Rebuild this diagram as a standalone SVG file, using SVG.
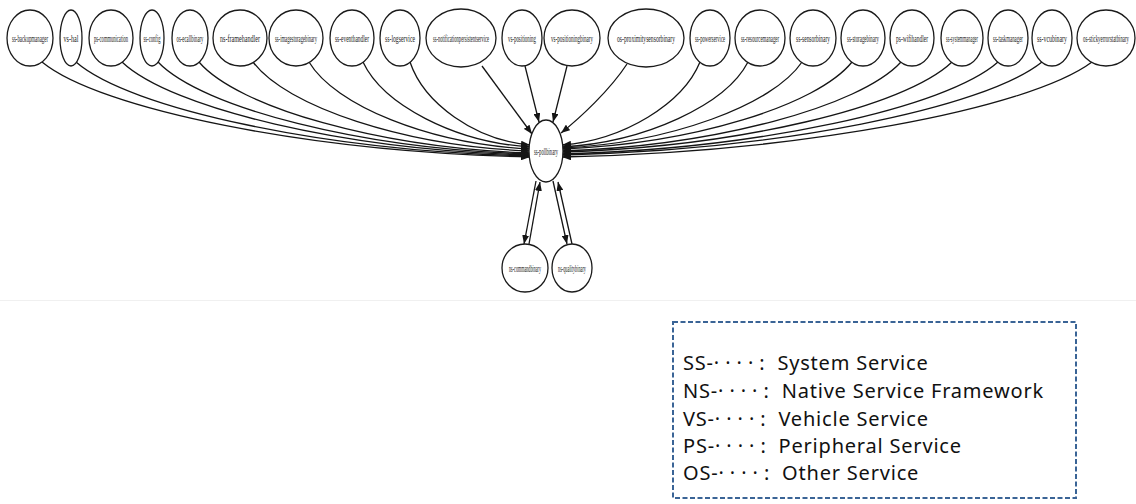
<svg xmlns="http://www.w3.org/2000/svg" width="1136" height="504" viewBox="0 0 1136 504">
  <style>
    .node ellipse { fill: #ffffff; stroke: #1a1a1a; stroke-width: 1.3; }
    .node text { font-family: "Liberation Serif", serif; font-size: 11px; fill: #1a1a1a; text-anchor: middle; }
    .edge { fill: none; stroke: #151515; stroke-width: 1.3; marker-end: url(#arrow); }
    .legend-box { fill: none; stroke: #3a6496; stroke-width: 2; stroke-dasharray: 5 2.5; }
    .legend text { font-family: "Noto Sans", "Noto Sans CJK KR", sans-serif; font-size: 20px; fill: #111111; white-space: pre; letter-spacing: 0.8px; }
    .legend .dots { letter-spacing: 6px; }
  </style>
  <defs>
    <marker id="arrow" markerUnits="userSpaceOnUse" markerWidth="9" markerHeight="7" refX="9" refY="3.5" orient="auto">
      <path d="M0,0 L9,3.5 L0,7 z" fill="#151515"/>
    </marker>
  </defs>

  <rect x="0" y="0" width="1136" height="504" fill="#ffffff"/>
  <line x1="0" y1="300.5" x2="1136" y2="300.5" stroke="#f0f0f0" stroke-width="1"/>

  <!-- dependency edges -->
  <g id="edges">
    <path class="edge" d="M42,62 C100,109.5 309,152 530,157"/>
    <path class="edge" d="M76,62 C130,109 325,151 530,156"/>
    <path class="edge" d="M122,62 C171,108.5 345,150 530,155"/>
    <path class="edge" d="M158,62 C202,108 362,149 530,154"/>
    <path class="edge" d="M199,62 C238,107.5 380,148 530,153"/>
    <path class="edge" d="M253,62 C286,106.5 404,146 530,151"/>
    <path class="edge" d="M309,62 C335,105.5 429,144 530,149"/>
    <path class="edge" d="M363,62 C383,104.5 454,142 530,147"/>
    <path class="edge" d="M410,62 C424,103.5 475,140 530,145"/>
    <path class="edge" d="M482,66 L532,134"/>
    <path class="edge" d="M525,66 L539,122"/>
    <path class="edge" d="M567,66 L553,122"/>
    <path class="edge" d="M627,64 C610,90 580,118 561,133"/>
    <path class="edge" d="M700,62 C683,103.5 624,140 562,145"/>
    <path class="edge" d="M748,62 C726,104.5 646,142 562,147"/>
    <path class="edge" d="M802,62 C773,105 670,143 562,148"/>
    <path class="edge" d="M852,62 C817,105.5 692,144 562,149"/>
    <path class="edge" d="M901,62 C860,106.5 715,146 562,151"/>
    <path class="edge" d="M952,62 C905,107 738,147 562,152"/>
    <path class="edge" d="M998,62 C946,108 758,149 562,154"/>
    <path class="edge" d="M1042,62 C984,108.5 778,150 562,155"/>
    <path class="edge" d="M1092,62 C1028,109.5 800,152 562,157"/>
    <!-- center <-> lower nodes -->
    <path class="edge" d="M536,181 L524,244"/>
    <path class="edge" d="M529,244 L540,182"/>
    <path class="edge" d="M553,181 L567,244"/>
    <path class="edge" d="M572,244 L558,182"/>
  </g>

  <!-- upper row of services (labels are horizontally condensed) -->
  <g id="n1" class="node"><ellipse cx="30" cy="38" rx="23" ry="28"/><text transform="translate(30,42) scale(0.511,1)" textLength="70.4" lengthAdjust="spacingAndGlyphs">ss-backupmanager</text></g>
  <g id="n2" class="node"><ellipse cx="71" cy="38" rx="11" ry="28"/><text transform="translate(71,42) scale(0.568,1)" textLength="26.4" lengthAdjust="spacingAndGlyphs">vs-hal</text></g>
  <g id="n3" class="node"><ellipse cx="111" cy="38" rx="22" ry="28"/><text transform="translate(111,42) scale(0.483,1)" textLength="70.4" lengthAdjust="spacingAndGlyphs">ps-communication</text></g>
  <g id="n4" class="node"><ellipse cx="152" cy="38" rx="12" ry="28"/><text transform="translate(152,42) scale(0.429,1)" textLength="39.6" lengthAdjust="spacingAndGlyphs">ss-config</text></g>
  <g id="n5" class="node"><ellipse cx="190" cy="38" rx="18" ry="28"/><text transform="translate(190,42) scale(0.438,1)" textLength="61.6" lengthAdjust="spacingAndGlyphs">os-ecallbinary</text></g>
  <g id="n6" class="node"><ellipse cx="240" cy="38" rx="27" ry="28"/><text transform="translate(240,42) scale(0.606,1)" textLength="66" lengthAdjust="spacingAndGlyphs">ns-framehandler</text></g>
  <g id="n7" class="node"><ellipse cx="296" cy="38" rx="27" ry="28"/><text transform="translate(296,42) scale(0.455,1)" textLength="92.4" lengthAdjust="spacingAndGlyphs">ss-imagestoragebinary</text></g>
  <g id="n8" class="node"><ellipse cx="352" cy="38" rx="22" ry="28"/><text transform="translate(352,42) scale(0.515,1)" textLength="66" lengthAdjust="spacingAndGlyphs">ss-eventhandler</text></g>
  <g id="n9" class="node"><ellipse cx="400" cy="38" rx="20" ry="28"/><text transform="translate(400,42) scale(0.524,1)" textLength="57.2" lengthAdjust="spacingAndGlyphs">ss-logservice</text></g>
  <g id="n10" class="node"><ellipse cx="461" cy="38" rx="35" ry="29"/><text transform="translate(461,42) scale(0.398,1)" textLength="140.8" lengthAdjust="spacingAndGlyphs">ss-notificationpersistentservice</text></g>
  <g id="n11" class="node"><ellipse cx="522" cy="38" rx="20" ry="28"/><text transform="translate(522,42) scale(0.455,1)" textLength="61.6" lengthAdjust="spacingAndGlyphs">vs-positioning</text></g>
  <g id="n12" class="node"><ellipse cx="572" cy="38" rx="28" ry="28"/><text transform="translate(572,42) scale(0.477,1)" textLength="88" lengthAdjust="spacingAndGlyphs">vs-positioningbinary</text></g>
  <g id="n13" class="node"><ellipse cx="646" cy="38" rx="38" ry="29"/><text transform="translate(646,42) scale(0.549,1)" textLength="105.6" lengthAdjust="spacingAndGlyphs">os-proximitysensorbinary</text></g>
  <g id="n14" class="node"><ellipse cx="710" cy="38" rx="20" ry="28"/><text transform="translate(710,42) scale(0.455,1)" textLength="66" lengthAdjust="spacingAndGlyphs">ss-powerservice</text></g>
  <g id="n15" class="node"><ellipse cx="760" cy="38" rx="25" ry="28"/><text transform="translate(760,42) scale(0.48,1)" textLength="79.2" lengthAdjust="spacingAndGlyphs">ss-resourcemanager</text></g>
  <g id="n16" class="node"><ellipse cx="813" cy="38" rx="23" ry="28"/><text transform="translate(813,42) scale(0.515,1)" textLength="66" lengthAdjust="spacingAndGlyphs">ss-sensorbinary</text></g>
  <g id="n17" class="node"><ellipse cx="863" cy="38" rx="22" ry="28"/><text transform="translate(863,42) scale(0.455,1)" textLength="70.4" lengthAdjust="spacingAndGlyphs">ss-storagebinary</text></g>
  <g id="n18" class="node"><ellipse cx="912" cy="38" rx="22" ry="28"/><text transform="translate(912,42) scale(0.519,1)" textLength="61.6" lengthAdjust="spacingAndGlyphs">ps-wifihandler</text></g>
  <g id="n19" class="node"><ellipse cx="962" cy="38" rx="21" ry="28"/><text transform="translate(962,42) scale(0.455,1)" textLength="70.4" lengthAdjust="spacingAndGlyphs">ss-systemmanager</text></g>
  <g id="n20" class="node"><ellipse cx="1008" cy="38" rx="20" ry="28"/><text transform="translate(1008,42) scale(0.487,1)" textLength="61.6" lengthAdjust="spacingAndGlyphs">ss-taskmanager</text></g>
  <g id="n21" class="node"><ellipse cx="1052" cy="38" rx="20" ry="28"/><text transform="translate(1052,42) scale(0.568,1)" textLength="52.8" lengthAdjust="spacingAndGlyphs">ss-vcubinary</text></g>
  <g id="n22" class="node"><ellipse cx="1106" cy="38" rx="29" ry="28"/><text transform="translate(1106,42) scale(0.436,1)" textLength="105.6" lengthAdjust="spacingAndGlyphs">os-stickyerrorstatbinary</text></g>

  <!-- central service and its dependents -->
  <g id="center" class="node"><ellipse cx="546" cy="151" rx="17" ry="31"/><text transform="translate(546,155) scale(0.42,1)" textLength="57.2" lengthAdjust="spacingAndGlyphs">ss-pollbinary</text></g>
  <g id="low1" class="node"><ellipse cx="525" cy="268" rx="23" ry="24"/><text transform="translate(525,272) scale(0.455,1)" textLength="70.4" lengthAdjust="spacingAndGlyphs">ns-commandbinary</text></g>
  <g id="low2" class="node"><ellipse cx="572" cy="268" rx="20" ry="24"/><text transform="translate(572,272) scale(0.398,1)" textLength="70.4" lengthAdjust="spacingAndGlyphs">ns-qualitybinary</text></g>

  <!-- prefix legend -->
  <g id="legend" class="legend">
    <rect class="legend-box" x="673" y="322" width="403" height="176"/>
    <text xml:space="preserve" x="683" y="370">SS-<tspan class="dots">····</tspan>:  System Service</text>
    <text xml:space="preserve" x="683" y="398">NS-<tspan class="dots">····</tspan>:  Native Service Framework</text>
    <text xml:space="preserve" x="683" y="426">VS-<tspan class="dots">····</tspan>:  Vehicle Service</text>
    <text xml:space="preserve" x="683" y="453">PS-<tspan class="dots">····</tspan>:  Peripheral Service</text>
    <text xml:space="preserve" x="683" y="480">OS-<tspan class="dots">····</tspan>:  Other Service</text>
  </g>
</svg>
